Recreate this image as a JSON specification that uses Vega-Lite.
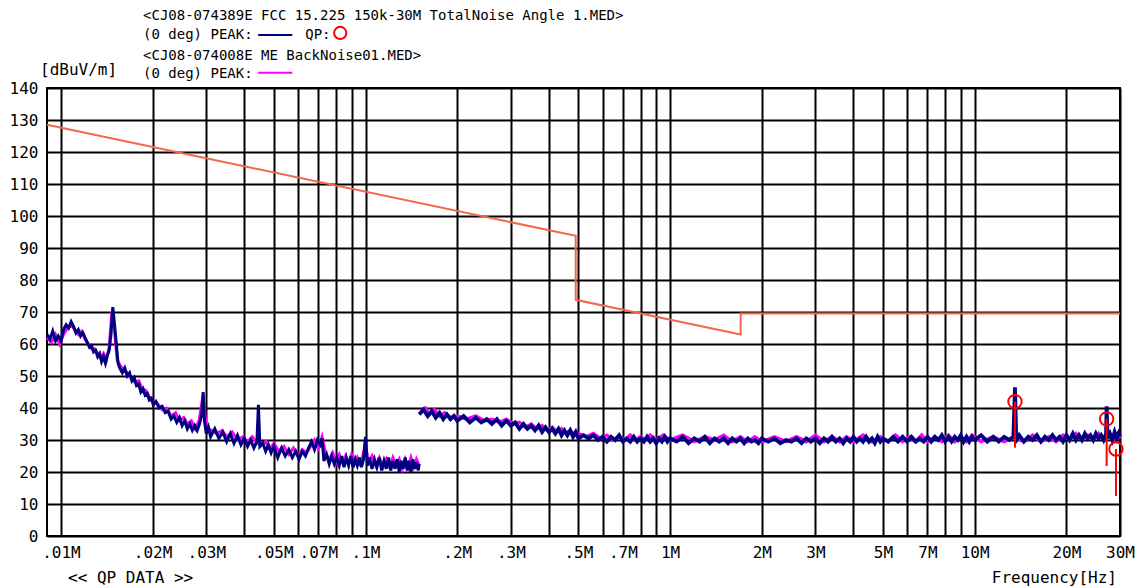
{
"$schema": "https://vega.github.io/schema/vega-lite/v6.json",
"width": 1073, "height": 448,
"autosize": {"type": "none"},
"padding": {"left": 47, "top": 88, "right": 25, "bottom": 52},
"background": "white",
"config": {
"view": {"stroke": "black", "strokeWidth": 2},
"axis": {"grid": true, "gridColor": "black", "gridWidth": 2, "gridOpacity": 1, "domain": false, "ticks": false, "labelFont": "DejaVu Sans Mono", "labelFontSize": 16, "labelColor": "black"},
"axisX": {"labelPadding": 8, "labelFlush": false, "labelOverlap": false},
"axisY": {"labelPadding": 9, "labelFlush": false, "labelOverlap": false},
"text": {"font": "DejaVu Sans Mono", "color": "black"}
},
"datasets": {
"one": [{"k": 1}],
"limit": [{"f":0.009,"v":128.5},{"f":0.49,"v":93.8},{"f":0.49,"v":73.8},{"f":1.705,"v":63.0},{"f":1.705,"v":69.5},{"f":30,"v":69.5}],
"qp": [{"f":13.56,"v":42.0,"low":27.6},{"f":27.12,"v":36.6,"low":21.9},{"f":29.1,"v":27.2,"low":12.5}],
"n1": [{"f":0.0090,"v":63},{"f":0.0092,"v":61.5},{"f":0.0094,"v":64},{"f":0.0096,"v":61},{"f":0.0098,"v":62.5},{"f":0.0100,"v":61},{"f":0.0102,"v":64.5},{"f":0.0104,"v":66},{"f":0.0106,"v":65},{"f":0.0108,"v":67},{"f":0.0110,"v":65.5},{"f":0.0112,"v":63.5},{"f":0.0114,"v":64.5},{"f":0.0116,"v":62.5},{"f":0.0118,"v":63.5},{"f":0.0120,"v":62},{"f":0.0122,"v":60.5},{"f":0.0124,"v":59},{"f":0.0126,"v":59.5},{"f":0.0128,"v":57.5},{"f":0.0130,"v":58},{"f":0.0132,"v":56},{"f":0.0134,"v":57},{"f":0.0136,"v":54.5},{"f":0.0138,"v":56},{"f":0.0140,"v":54},{"f":0.0142,"v":56.5},{"f":0.0144,"v":58},{"f":0.0146,"v":63},{"f":0.0148,"v":71.5},{"f":0.0150,"v":66},{"f":0.0152,"v":60},{"f":0.0154,"v":54},{"f":0.0156,"v":52.5},{"f":0.0159,"v":51},{"f":0.0162,"v":52.5},{"f":0.0165,"v":50},{"f":0.0168,"v":51},{"f":0.0171,"v":48.5},{"f":0.0174,"v":49.5},{"f":0.0177,"v":47},{"f":0.0180,"v":47.5},{"f":0.0183,"v":45},{"f":0.0186,"v":46},{"f":0.0189,"v":44},{"f":0.0192,"v":44.5},{"f":0.0195,"v":42.5},{"f":0.0198,"v":43},{"f":0.0201,"v":41},{"f":0.0205,"v":42},{"f":0.0210,"v":40},{"f":0.0215,"v":40.5},{"f":0.0220,"v":38.5},{"f":0.0225,"v":39},{"f":0.0230,"v":36.5},{"f":0.0235,"v":37.5},{"f":0.0240,"v":35.5},{"f":0.0245,"v":37},{"f":0.0250,"v":34.5},{"f":0.0255,"v":36},{"f":0.0260,"v":33.5},{"f":0.0265,"v":35},{"f":0.0270,"v":33},{"f":0.0275,"v":34.5},{"f":0.0280,"v":33},{"f":0.0285,"v":35},{"f":0.0290,"v":38},{"f":0.0293,"v":45},{"f":0.0296,"v":36},{"f":0.0300,"v":32},{"f":0.0305,"v":34},{"f":0.0310,"v":31},{"f":0.0320,"v":33.5},{"f":0.0330,"v":30.5},{"f":0.0340,"v":32.5},{"f":0.0350,"v":29.5},{"f":0.0360,"v":32},{"f":0.0370,"v":29},{"f":0.0380,"v":31.5},{"f":0.0390,"v":28.5},{"f":0.0400,"v":30.5},{"f":0.0410,"v":28},{"f":0.0420,"v":30},{"f":0.0430,"v":27.5},{"f":0.0440,"v":29.5},{"f":0.0445,"v":41},{"f":0.0450,"v":28},{"f":0.0460,"v":29},{"f":0.0470,"v":26.5},{"f":0.0480,"v":28.5},{"f":0.0490,"v":26},{"f":0.0500,"v":28},{"f":0.0515,"v":24.5},{"f":0.0530,"v":27.5},{"f":0.0545,"v":25},{"f":0.0560,"v":27},{"f":0.0575,"v":24.5},{"f":0.0590,"v":26.5},{"f":0.0605,"v":24},{"f":0.0620,"v":26.5},{"f":0.0635,"v":25},{"f":0.0650,"v":27.5},{"f":0.0665,"v":29.5},{"f":0.0680,"v":27},{"f":0.0695,"v":30},{"f":0.0710,"v":28.5},{"f":0.0720,"v":30.5},{"f":0.0730,"v":23.5},{"f":0.0745,"v":25.5},{"f":0.0760,"v":22.5},{"f":0.0775,"v":25},{"f":0.0790,"v":22.5},{"f":0.0805,"v":24.5},{"f":0.0820,"v":22},{"f":0.0835,"v":25},{"f":0.0850,"v":21.5},{"f":0.0865,"v":24.5},{"f":0.0880,"v":22},{"f":0.0895,"v":25},{"f":0.0910,"v":21.5},{"f":0.0925,"v":24},{"f":0.0940,"v":22},{"f":0.0955,"v":24.5},{"f":0.0970,"v":21.5},{"f":0.0985,"v":24},{"f":0.1000,"v":31},{"f":0.1015,"v":22},{"f":0.1030,"v":24.5},{"f":0.1050,"v":21},{"f":0.1070,"v":24},{"f":0.1090,"v":21.5},{"f":0.1110,"v":24.5},{"f":0.1130,"v":20.5},{"f":0.1150,"v":23.5},{"f":0.1170,"v":21},{"f":0.1190,"v":24.5},{"f":0.1210,"v":20.5},{"f":0.1230,"v":23.5},{"f":0.1250,"v":21},{"f":0.1270,"v":24},{"f":0.1290,"v":20},{"f":0.1310,"v":23.5},{"f":0.1330,"v":21},{"f":0.1350,"v":24.5},{"f":0.1370,"v":20.5},{"f":0.1390,"v":23.5},{"f":0.1410,"v":20},{"f":0.1430,"v":24},{"f":0.1450,"v":21},{"f":0.1470,"v":23},{"f":0.1490,"v":20.5},{"f":0.1500,"v":22.5}],
"m1": [{"f":0.0090,"v":62},{"f":0.0093,"v":60.5},{"f":0.0096,"v":63},{"f":0.0099,"v":60},{"f":0.0102,"v":63},{"f":0.0105,"v":65},{"f":0.0108,"v":66},{"f":0.0111,"v":64.5},{"f":0.0114,"v":63},{"f":0.0117,"v":64},{"f":0.0120,"v":61.5},{"f":0.0123,"v":60},{"f":0.0126,"v":58.5},{"f":0.0129,"v":58.5},{"f":0.0132,"v":57},{"f":0.0135,"v":55.5},{"f":0.0138,"v":57},{"f":0.0141,"v":55},{"f":0.0144,"v":59},{"f":0.0147,"v":70},{"f":0.0150,"v":64},{"f":0.0153,"v":55},{"f":0.0156,"v":53.5},{"f":0.0160,"v":52},{"f":0.0165,"v":51},{"f":0.0170,"v":49.5},{"f":0.0175,"v":48},{"f":0.0180,"v":48.5},{"f":0.0185,"v":46},{"f":0.0190,"v":45.5},{"f":0.0195,"v":43.5},{"f":0.0200,"v":42},{"f":0.0207,"v":41.5},{"f":0.0215,"v":39.5},{"f":0.0222,"v":40},{"f":0.0230,"v":37.5},{"f":0.0238,"v":38.5},{"f":0.0245,"v":36},{"f":0.0253,"v":37},{"f":0.0260,"v":35},{"f":0.0268,"v":36},{"f":0.0276,"v":33.5},{"f":0.0284,"v":36},{"f":0.0293,"v":44},{"f":0.0300,"v":34},{"f":0.0312,"v":33},{"f":0.0325,"v":32},{"f":0.0338,"v":33},{"f":0.0350,"v":31},{"f":0.0365,"v":32.5},{"f":0.0380,"v":30},{"f":0.0395,"v":31},{"f":0.0410,"v":29.5},{"f":0.0425,"v":31},{"f":0.0440,"v":29},{"f":0.0455,"v":28.5},{"f":0.0470,"v":29.5},{"f":0.0485,"v":27},{"f":0.0500,"v":29},{"f":0.0520,"v":26.5},{"f":0.0540,"v":28},{"f":0.0560,"v":25.5},{"f":0.0580,"v":27.5},{"f":0.0600,"v":25},{"f":0.0620,"v":27},{"f":0.0640,"v":26},{"f":0.0660,"v":28},{"f":0.0680,"v":30},{"f":0.0700,"v":27.5},{"f":0.0720,"v":31},{"f":0.0740,"v":25.5},{"f":0.0760,"v":24},{"f":0.0780,"v":26},{"f":0.0800,"v":23},{"f":0.0820,"v":25.5},{"f":0.0840,"v":23},{"f":0.0860,"v":25},{"f":0.0880,"v":22.5},{"f":0.0900,"v":25.5},{"f":0.0920,"v":22.5},{"f":0.0940,"v":24.5},{"f":0.0960,"v":22.5},{"f":0.0980,"v":25},{"f":0.1000,"v":29},{"f":0.1020,"v":23},{"f":0.1050,"v":25},{"f":0.1080,"v":22},{"f":0.1110,"v":24.5},{"f":0.1140,"v":21.5},{"f":0.1170,"v":24},{"f":0.1200,"v":21.5},{"f":0.1230,"v":24.5},{"f":0.1260,"v":22},{"f":0.1290,"v":24},{"f":0.1320,"v":21},{"f":0.1350,"v":24},{"f":0.1380,"v":21.5},{"f":0.1410,"v":24.5},{"f":0.1440,"v":21.5},{"f":0.1470,"v":24},{"f":0.1500,"v":22}],
"n2": [{"f":0.150,"v":38},{"f":0.155,"v":39.5},{"f":0.160,"v":37.5},{"f":0.165,"v":39},{"f":0.170,"v":37},{"f":0.175,"v":38.5},{"f":0.180,"v":36.5},{"f":0.185,"v":38},{"f":0.190,"v":36.5},{"f":0.195,"v":37.5},{"f":0.200,"v":36},{"f":0.21,"v":37.5},{"f":0.22,"v":35.5},{"f":0.23,"v":37},{"f":0.24,"v":35.5},{"f":0.25,"v":36.5},{"f":0.26,"v":35},{"f":0.27,"v":36.5},{"f":0.28,"v":34.5},{"f":0.29,"v":36},{"f":0.30,"v":34.5},{"f":0.31,"v":35.5},{"f":0.32,"v":33.5},{"f":0.33,"v":35},{"f":0.34,"v":33.5},{"f":0.35,"v":34.5},{"f":0.36,"v":33},{"f":0.37,"v":34.5},{"f":0.38,"v":32.5},{"f":0.39,"v":34},{"f":0.40,"v":32.5},{"f":0.41,"v":33.5},{"f":0.42,"v":32},{"f":0.43,"v":33.5},{"f":0.44,"v":31.5},{"f":0.45,"v":33},{"f":0.46,"v":31.5},{"f":0.47,"v":33},{"f":0.48,"v":31},{"f":0.49,"v":32.5},{"f":0.50,"v":30.5},{"f":0.52,"v":31.5},{"f":0.54,"v":30.5},{"f":0.56,"v":31.5},{"f":0.58,"v":30},{"f":0.60,"v":31},{"f":0.62,"v":29.5},{"f":0.64,"v":31},{"f":0.66,"v":30},{"f":0.68,"v":31.5},{"f":0.70,"v":29.5},{"f":0.72,"v":30.5},{"f":0.74,"v":29.5},{"f":0.76,"v":31},{"f":0.78,"v":29.5},{"f":0.80,"v":30.5},{"f":0.82,"v":29.5},{"f":0.84,"v":31},{"f":0.86,"v":29.5},{"f":0.88,"v":30.5},{"f":0.90,"v":29},{"f":0.92,"v":30.5},{"f":0.94,"v":29.5},{"f":0.96,"v":31},{"f":0.98,"v":29.5},{"f":1.00,"v":30.5},{"f":1.05,"v":29.5},{"f":1.10,"v":31},{"f":1.15,"v":29},{"f":1.20,"v":30.5},{"f":1.25,"v":29.5},{"f":1.30,"v":31},{"f":1.35,"v":29},{"f":1.40,"v":30.5},{"f":1.45,"v":29.5},{"f":1.50,"v":30.5},{"f":1.55,"v":29},{"f":1.60,"v":30.5},{"f":1.65,"v":29.5},{"f":1.70,"v":30.5},{"f":1.75,"v":29},{"f":1.80,"v":30.5},{"f":1.85,"v":29.5},{"f":1.90,"v":30},{"f":1.95,"v":29},{"f":2.00,"v":30.5},{"f":2.1,"v":29.5},{"f":2.2,"v":30.5},{"f":2.3,"v":29},{"f":2.4,"v":30},{"f":2.5,"v":29.5},{"f":2.6,"v":30.5},{"f":2.7,"v":29},{"f":2.8,"v":30.5},{"f":2.9,"v":29.5},{"f":3.0,"v":30.5},{"f":3.1,"v":29},{"f":3.2,"v":30.5},{"f":3.3,"v":29.5},{"f":3.4,"v":31},{"f":3.5,"v":29.5},{"f":3.6,"v":30.5},{"f":3.7,"v":29},{"f":3.8,"v":30.5},{"f":3.9,"v":29.5},{"f":4.0,"v":31},{"f":4.1,"v":29.5},{"f":4.2,"v":30.5},{"f":4.3,"v":29.5},{"f":4.4,"v":31},{"f":4.5,"v":29.5},{"f":4.6,"v":30.5},{"f":4.7,"v":29},{"f":4.8,"v":31},{"f":4.9,"v":29.5},{"f":5.0,"v":30.5},{"f":5.2,"v":29.5},{"f":5.4,"v":31},{"f":5.6,"v":29.5},{"f":5.8,"v":31},{"f":6.0,"v":29.5},{"f":6.2,"v":31},{"f":6.4,"v":29.5},{"f":6.6,"v":30.5},{"f":6.8,"v":29.5},{"f":7.0,"v":31},{"f":7.2,"v":29.5},{"f":7.4,"v":31},{"f":7.6,"v":30},{"f":7.8,"v":31.5},{"f":8.0,"v":29.5},{"f":8.2,"v":31},{"f":8.4,"v":29.5},{"f":8.6,"v":31},{"f":8.8,"v":30},{"f":9.0,"v":31.5},{"f":9.2,"v":29.5},{"f":9.4,"v":31},{"f":9.6,"v":29.5},{"f":9.8,"v":31},{"f":10.0,"v":30},{"f":10.5,"v":31.5},{"f":11.0,"v":29.5},{"f":11.5,"v":31},{"f":12.0,"v":29.5},{"f":12.5,"v":31},{"f":13.0,"v":30},{"f":13.4,"v":31},{"f":13.56,"v":46.5},{"f":13.7,"v":30},{"f":14.0,"v":31.5},{"f":14.5,"v":29.5},{"f":15.0,"v":31},{"f":15.5,"v":30},{"f":16.0,"v":31.5},{"f":16.5,"v":29.5},{"f":17.0,"v":31},{"f":17.5,"v":30},{"f":18.0,"v":31.5},{"f":18.5,"v":30},{"f":19.0,"v":31},{"f":19.5,"v":29.5},{"f":20.0,"v":31.5},{"f":20.5,"v":30},{"f":21.0,"v":32},{"f":21.5,"v":30},{"f":22.0,"v":31.5},{"f":22.5,"v":30},{"f":23.0,"v":32},{"f":23.5,"v":30.5},{"f":24.0,"v":31.5},{"f":24.5,"v":30},{"f":25.0,"v":32},{"f":25.5,"v":30.5},{"f":26.0,"v":31.5},{"f":26.5,"v":30},{"f":27.0,"v":32},{"f":27.12,"v":40.5},{"f":27.3,"v":30.5},{"f":27.8,"v":32},{"f":28.3,"v":30},{"f":28.8,"v":32.5},{"f":29.3,"v":30.5},{"f":29.7,"v":32},{"f":30.0,"v":31}],
"m2": [{"f":0.152,"v":39},{"f":0.157,"v":40},{"f":0.162,"v":38},{"f":0.168,"v":39.5},{"f":0.175,"v":37.5},{"f":0.182,"v":38.5},{"f":0.19,"v":37},{"f":0.2,"v":37.5},{"f":0.215,"v":36.5},{"f":0.23,"v":37.5},{"f":0.245,"v":36},{"f":0.26,"v":36.5},{"f":0.275,"v":35.5},{"f":0.29,"v":36.5},{"f":0.305,"v":35},{"f":0.32,"v":35.5},{"f":0.335,"v":34},{"f":0.35,"v":35},{"f":0.365,"v":33.5},{"f":0.38,"v":34.5},{"f":0.395,"v":33},{"f":0.41,"v":34},{"f":0.425,"v":32.5},{"f":0.44,"v":33.5},{"f":0.455,"v":32},{"f":0.47,"v":33},{"f":0.485,"v":31.5},{"f":0.5,"v":32},{"f":0.53,"v":31},{"f":0.56,"v":32},{"f":0.59,"v":30.5},{"f":0.62,"v":31.5},{"f":0.65,"v":30},{"f":0.68,"v":31},{"f":0.71,"v":30},{"f":0.74,"v":31.5},{"f":0.77,"v":30},{"f":0.8,"v":31},{"f":0.83,"v":30},{"f":0.86,"v":31.5},{"f":0.9,"v":30},{"f":0.95,"v":31.5},{"f":1.0,"v":30},{"f":1.1,"v":31.5},{"f":1.2,"v":29.5},{"f":1.3,"v":31},{"f":1.4,"v":30},{"f":1.5,"v":31.5},{"f":1.6,"v":29.5},{"f":1.7,"v":31},{"f":1.8,"v":29.5},{"f":1.9,"v":31},{"f":2.0,"v":29.5},{"f":2.2,"v":31},{"f":2.4,"v":29.5},{"f":2.6,"v":31},{"f":2.8,"v":29.5},{"f":3.0,"v":31.5},{"f":3.2,"v":29.5},{"f":3.4,"v":31},{"f":3.6,"v":29.5},{"f":3.8,"v":31},{"f":4.0,"v":29.5},{"f":4.3,"v":31.5},{"f":4.6,"v":29.5},{"f":4.9,"v":31},{"f":5.2,"v":29.5},{"f":5.5,"v":31.5},{"f":5.8,"v":29.5},{"f":6.1,"v":31},{"f":6.4,"v":29.5},{"f":6.7,"v":31.5},{"f":7.0,"v":29.5},{"f":7.4,"v":31},{"f":7.8,"v":29.5},{"f":8.2,"v":31.5},{"f":8.6,"v":29.5},{"f":9.0,"v":31},{"f":9.4,"v":29.5},{"f":9.8,"v":31.5},{"f":10.5,"v":29.5},{"f":11.5,"v":31},{"f":12.5,"v":29.5},{"f":13.5,"v":31},{"f":14.5,"v":29.5},{"f":15.5,"v":31.5},{"f":16.5,"v":29.5},{"f":17.5,"v":31},{"f":18.5,"v":29.5},{"f":19.5,"v":31.5},{"f":20.5,"v":30},{"f":21.5,"v":32},{"f":22.5,"v":30},{"f":23.5,"v":31.5},{"f":24.5,"v":30},{"f":25.5,"v":32},{"f":26.5,"v":30},{"f":27.5,"v":31.5},{"f":28.5,"v":30},{"f":29.5,"v":32},{"f":30.0,"v":30.5}]
},
"layer": [
{"layer": [
{"data": {"name": "limit"}, "mark": {"type": "line", "color": "#f0694a", "strokeWidth": 2}, "encoding": {"order": {"value": null}}},
{"data": {"name": "m1"}, "mark": {"type": "line", "color": "#ff00ff", "strokeWidth": 3}},
{"data": {"name": "m2"}, "mark": {"type": "line", "color": "#ff00ff", "strokeWidth": 3.5}},
{"data": {"name": "n1"}, "mark": {"type": "line", "color": "#000080", "strokeWidth": 3}},
{"data": {"name": "n2"}, "mark": {"type": "line", "color": "#000080", "strokeWidth": 3.8}},
{"data": {"name": "qp"}, "mark": {"type": "rule", "color": "#ff0000", "strokeWidth": 2}, "encoding": {"y2": {"field": "low"}}},
{"data": {"name": "qp"}, "mark": {"type": "point", "shape": "circle", "filled": false, "color": "#ff0000", "strokeWidth": 2, "size": 180, "opacity": 1}}
],
"encoding": {
"x": {"field": "f", "type": "quantitative", "title": null,
"scale": {"type": "log", "domain": [0.009, 30], "nice": false},
"axis": {"values": [0.01,0.02,0.03,0.04,0.05,0.06,0.07,0.08,0.09,0.1,0.2,0.3,0.4,0.5,0.6,0.7,0.8,0.9,1,2,3,4,5,6,7,8,9,10,20,30],
"labelExpr": "indexof([0.04,0.06,0.08,0.09,0.4,0.6,0.8,0.9,4,6,8,9], datum.value) >= 0 ? '' : (datum.value < 1 ? substring(format(datum.value, '~g'), 1) : format(datum.value, '~g')) + 'M'"}},
"y": {"field": "v", "type": "quantitative", "title": null,
"scale": {"domain": [0, 140], "nice": false, "zero": false},
"axis": {"values": [0,10,20,30,40,50,60,70,80,90,100,110,120,130,140]}}
}},
{"data": {"name": "one"},
"encoding": {
"x": {"datum": 1, "type": "quantitative", "title": null, "axis": {"values": [0.01,0.02,0.03,0.04,0.05,0.06,0.07,0.08,0.09,0.1,0.2,0.3,0.4,0.5,0.6,0.7,0.8,0.9,1,2,3,4,5,6,7,8,9,10,20,30],
"labelExpr": "indexof([0.04,0.06,0.08,0.09,0.4,0.6,0.8,0.9,4,6,8,9], datum.value) >= 0 ? '' : (datum.value < 1 ? substring(format(datum.value, '~g'), 1) : format(datum.value, '~g')) + 'M'"}},
"y": {"datum": 50, "type": "quantitative", "title": null, "axis": {"values": [0,10,20,30,40,50,60,70,80,90,100,110,120,130,140]}}
},
"layer": [
{"mark": {"type": "text", "align": "left", "baseline": "middle", "fontSize": 14}, "encoding": {"x": {"datum": 0.0186}, "y": {"datum": 162.5}, "text": {"value": "<CJ08-074389E FCC 15.225 150k-30M TotalNoise Angle 1.MED>"}}},
{"mark": {"type": "text", "align": "left", "baseline": "middle", "fontSize": 14}, "encoding": {"x": {"datum": 0.0186}, "y": {"datum": 156.6}, "text": {"value": "(0 deg) PEAK:"}}},
{"mark": {"type": "rule", "color": "#000080", "strokeWidth": 2}, "encoding": {"x": {"datum": 0.0444}, "x2": {"datum": 0.0575}, "y": {"datum": 156.6}}},
{"mark": {"type": "text", "align": "left", "baseline": "middle", "fontSize": 14}, "encoding": {"x": {"datum": 0.0634}, "y": {"datum": 156.6}, "text": {"value": "QP:"}}},
{"mark": {"type": "point", "shape": "circle", "filled": false, "color": "#ff0000", "strokeWidth": 2, "size": 150, "opacity": 1}, "encoding": {"x": {"datum": 0.0826}, "y": {"datum": 157.2}}},
{"mark": {"type": "text", "align": "left", "baseline": "middle", "fontSize": 14}, "encoding": {"x": {"datum": 0.0186}, "y": {"datum": 150}, "text": {"value": "<CJ08-074008E ME BackNoise01.MED>"}}},
{"mark": {"type": "text", "align": "left", "baseline": "middle", "fontSize": 14}, "encoding": {"x": {"datum": 0.0186}, "y": {"datum": 144.4}, "text": {"value": "(0 deg) PEAK:"}}},
{"mark": {"type": "rule", "color": "#ff00ff", "strokeWidth": 2}, "encoding": {"x": {"datum": 0.0444}, "x2": {"datum": 0.0575}, "y": {"datum": 144.8}}},
{"mark": {"type": "text", "align": "left", "baseline": "middle", "fontSize": 16}, "encoding": {"x": {"datum": 0.00854}, "y": {"datum": 145.6}, "text": {"value": "[dBuV/m]"}}},
{"mark": {"type": "text", "align": "left", "baseline": "middle", "fontSize": 16}, "encoding": {"x": {"datum": 0.01055}, "y": {"datum": -13.1}, "text": {"value": "<< QP DATA >>"}}},
{"mark": {"type": "text", "align": "right", "baseline": "middle", "fontSize": 16}, "encoding": {"x": {"datum": 29.33}, "y": {"datum": -13.1}, "text": {"value": "Frequency[Hz]"}}}
]}
]
}
